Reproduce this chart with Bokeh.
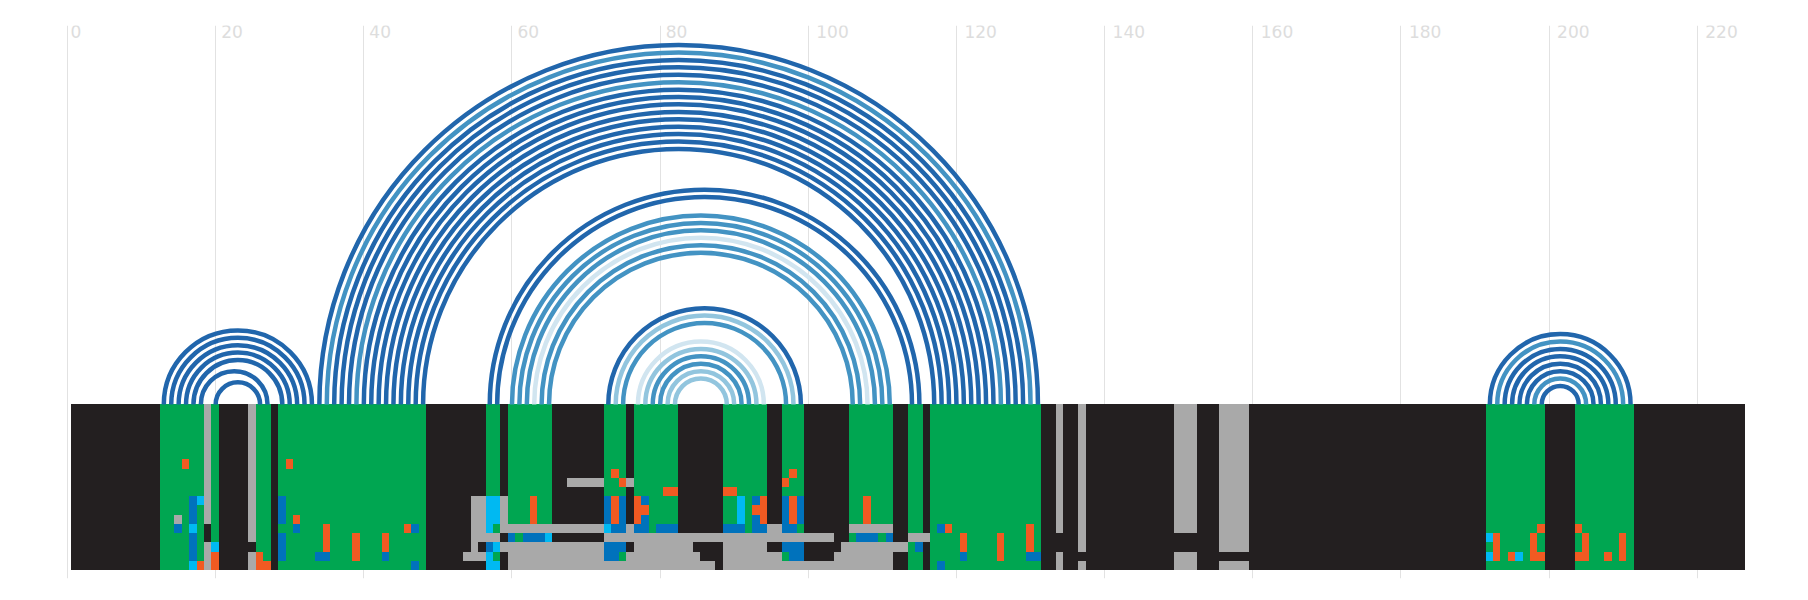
from bokeh.plotting import figure
from bokeh.models import Range1d, Grid, FixedTicker, ColumnDataSource
from bokeh.core.properties import value
from bokeh.embed import file_html
from bokeh.resources import INLINE
import math

# ---------- data ----------
tick_values = [0, 20, 40, 60, 80, 100, 120, 140, 160, 180, 200, 220]
tick_labels = ["0", "20", "40", "60", "80", "100", "120", "140", "160", "180", "200", "220"]

n_cols = 226
n_rows = 18

category_colors = {"K": "#231f20", "G": "#00a651", "A": "#a9a9a9",
                   "O": "#f15a22", "B": "#0072bc", "L": "#00b9f2"}

# (first column, last column, category) – the column colour of the upper rows
column_runs = [
    (0, 11, "K"), (12, 17, "G"), (18, 18, "A"), (19, 19, "G"), (20, 23, "K"), (24, 24, "A"),
    (25, 26, "G"), (27, 27, "K"), (28, 47, "G"), (48, 55, "K"), (56, 57, "G"), (58, 58, "K"),
    (59, 64, "G"), (65, 71, "K"), (72, 74, "G"), (75, 75, "K"), (76, 81, "G"), (82, 87, "K"),
    (88, 93, "G"), (94, 95, "K"), (96, 98, "G"), (99, 104, "K"), (105, 110, "G"), (111, 112, "K"),
    (113, 114, "G"), (115, 115, "K"), (116, 130, "G"), (131, 132, "K"), (133, 133, "A"),
    (134, 135, "K"), (136, 136, "A"), (137, 148, "K"), (149, 151, "A"), (152, 154, "K"),
    (155, 158, "A"), (159, 190, "K"), (191, 198, "G"), (199, 202, "K"), (203, 210, "G"),
    (211, 225, "K"),
]

# (first col, last col, first row, last row, category); row 0 is the bottom row
cell_patches = [
    # first block
    (15, 15, 11, 11, "O"), (14, 14, 5, 5, "A"), (14, 14, 4, 4, "B"),
    (16, 16, 5, 7, "B"), (16, 16, 4, 4, "L"), (16, 16, 1, 3, "B"), (16, 16, 0, 0, "L"),
    (17, 17, 7, 7, "L"), (17, 17, 0, 0, "O"),
    (18, 18, 3, 4, "K"), (19, 19, 2, 2, "L"), (19, 19, 0, 1, "O"),
    (24, 24, 2, 2, "K"), (25, 25, 1, 1, "O"), (25, 26, 0, 0, "O"),
    (28, 28, 5, 7, "B"), (28, 28, 1, 3, "B"), (29, 29, 11, 11, "O"),
    (30, 30, 5, 5, "O"), (30, 30, 4, 4, "B"),
    (33, 34, 1, 1, "B"), (34, 34, 2, 4, "O"), (38, 38, 1, 3, "O"),
    (42, 42, 2, 3, "O"), (42, 42, 1, 1, "B"), (45, 45, 4, 4, "O"), (46, 46, 4, 4, "B"),
    (46, 46, 0, 0, "B"),
    # grey shape at 54-58
    (54, 55, 3, 7, "A"), (54, 54, 2, 2, "A"), (53, 55, 1, 1, "A"),
    (56, 57, 4, 7, "L"), (57, 57, 4, 4, "G"), (56, 57, 3, 3, "A"),
    (56, 56, 2, 2, "B"), (57, 57, 2, 2, "L"), (56, 56, 1, 1, "L"), (57, 57, 1, 1, "G"),
    (56, 57, 0, 0, "L"), (58, 58, 4, 7, "A"), (58, 58, 2, 2, "A"),
    # stretch 59-71
    (62, 62, 5, 7, "O"), (58, 71, 4, 4, "A"),
    (59, 59, 3, 3, "B"), (60, 60, 3, 3, "G"), (61, 63, 3, 3, "B"), (64, 64, 3, 3, "L"),
    (58, 71, 2, 2, "A"), (59, 71, 0, 1, "A"), (59, 64, 0, 2, "A"),
    (67, 71, 9, 9, "A"),
    # 72-75
    (73, 73, 10, 10, "O"), (74, 74, 9, 9, "O"), (75, 75, 9, 9, "A"),
    (72, 72, 5, 7, "B"), (73, 73, 5, 7, "O"), (74, 74, 5, 7, "B"),
    (72, 72, 4, 4, "L"), (73, 74, 4, 4, "B"), (75, 75, 4, 4, "A"),
    (72, 102, 3, 3, "A"),
    (72, 74, 2, 2, "B"), (72, 73, 1, 1, "B"), (74, 74, 1, 1, "G"),
    (75, 84, 1, 1, "A"), (76, 83, 2, 2, "A"), (59, 86, 0, 0, "A"),
    # 76-81
    (80, 81, 8, 8, "O"), (76, 76, 5, 7, "O"), (77, 77, 7, 7, "B"), (77, 77, 6, 6, "O"),
    (77, 77, 5, 5, "B"), (76, 77, 4, 4, "B"), (78, 78, 4, 4, "G"), (79, 81, 4, 4, "B"),
    # 88-95
    (88, 89, 8, 8, "O"), (90, 90, 5, 7, "L"), (92, 92, 7, 7, "B"), (92, 93, 6, 6, "O"),
    (92, 92, 5, 5, "B"), (93, 93, 5, 7, "O"),
    (88, 90, 4, 4, "B"), (91, 91, 4, 4, "G"), (92, 93, 4, 4, "B"), (94, 95, 4, 4, "A"),
    (88, 93, 2, 2, "A"), (88, 95, 1, 1, "A"), (88, 110, 0, 0, "A"),
    # 96-98
    (97, 97, 10, 10, "O"), (96, 96, 9, 9, "O"),
    (96, 96, 5, 7, "B"), (97, 97, 5, 7, "O"), (98, 98, 5, 7, "B"),
    (96, 97, 4, 4, "B"), (98, 98, 4, 4, "G"),
    (96, 98, 2, 2, "B"), (96, 96, 1, 1, "G"), (97, 98, 1, 1, "B"),
    # 104-115
    (107, 107, 5, 7, "O"), (105, 110, 4, 4, "A"),
    (105, 105, 3, 3, "G"), (106, 108, 3, 3, "B"), (109, 109, 3, 3, "G"), (110, 110, 3, 3, "B"),
    (104, 112, 2, 2, "A"), (103, 110, 1, 1, "A"),
    (113, 115, 3, 3, "A"), (113, 113, 2, 2, "G"), (114, 114, 2, 2, "B"),
    # last green block of the middle
    (117, 117, 4, 4, "B"), (118, 118, 4, 4, "O"), (117, 117, 0, 0, "B"),
    (120, 120, 2, 3, "O"), (120, 120, 1, 1, "B"), (125, 125, 1, 3, "O"),
    (129, 129, 2, 4, "O"), (129, 130, 1, 1, "B"),
    # grey columns on black
    (133, 133, 2, 3, "K"), (136, 136, 1, 1, "K"), (149, 151, 2, 3, "K"), (155, 158, 1, 1, "K"),
    # right blocks
    (191, 191, 3, 3, "L"), (191, 191, 1, 1, "L"), (192, 192, 1, 3, "O"),
    (194, 194, 1, 1, "O"), (195, 195, 1, 1, "L"), (197, 197, 1, 3, "O"),
    (198, 198, 1, 1, "O"), (198, 198, 4, 4, "O"),
    (203, 203, 4, 4, "O"), (203, 203, 1, 1, "O"), (204, 204, 1, 3, "O"),
    (207, 207, 1, 1, "O"), (209, 209, 1, 3, "O"),
]

# arcs between two columns
arc_left = [12, 13, 14, 15, 16, 17, 19,
            33, 34, 35, 36, 37, 38, 39, 40, 41, 42, 43, 44, 45, 46, 47,
            56, 57, 59, 60, 61, 62, 63, 64,
            72, 73, 74, 76, 77, 78, 79, 80, 81,
            191, 192, 193, 194, 195, 196, 197, 198]
arc_right = [32, 31, 30, 29, 28, 26, 25,
             130, 129, 128, 127, 126, 125, 124, 123, 122, 121, 120, 119, 118, 117, 116,
             114, 113, 110, 109, 108, 107, 106, 105,
             98, 97, 96, 93, 92, 91, 90, 89, 88,
             210, 209, 208, 207, 206, 205, 204, 203]
arc_level = [0, 0, 0, 0, 0, 0, 0,
             0, 1, 0, 0, 0, 1, 0, 0, 0, 0, 0, 0, 0, 0, 0,
             0, 0, 1, 1, 1, 3, 1, 1,
             0, 2, 1, 3, 2, 1, 1, 2, 2,
             0, 1, 0, 0, 0, 0, 1, 0]
level_colors = ["#2166ac", "#4393c3", "#92c5de", "#d1e5f0"]

# ---------- page geometry ----------
W, H = 1792, 584
unit = 7.408            # px per column
left_x0 = 67.0          # canvas px of position 0
frame_top, frame_bottom = 25, 578
heat_top, heat_bottom = 404, 570
row_px = (heat_bottom - heat_top) / n_rows
half_px = 0.5           # the SVG layer draws everything half a pixel off


def col_edge(position):
    """Data position of a cell edge that lands on a whole screen pixel."""
    return (round(left_x0 + unit * position) - half_px - left_x0) / unit


def row_edge(row):
    """Row coordinate of a cell edge that lands on a whole screen pixel."""
    return (round(row * row_px) + half_px) / row_px


# ---------- expand table ----------
grid = [["K"] * n_cols for _ in range(n_rows)]
for c0, c1, cat in column_runs:
    for c in range(c0, c1 + 1):
        for r in range(n_rows):
            grid[r][c] = cat
for c0, c1, r0, r1, cat in cell_patches:
    for c in range(c0, c1 + 1):
        for r in range(r0, r1 + 1):
            grid[r][c] = cat

# Painted bottom-up: each changed span reaches to the top of the block and the
# next rows paint over it, so no hairlines appear between touching rows.
lefts = [col_edge(0.5)]
rights = [col_edge(n_cols + 0.5)]
bottoms = [row_edge(0)]
tops = [row_edge(n_rows)]
colors = [category_colors["K"]]
below = ["K"] * n_cols
for r in range(n_rows):
    c = 0
    while c < n_cols:
        if grid[r][c] == below[c]:
            c += 1
            continue
        e = c
        while e + 1 < n_cols and grid[r][e + 1] == grid[r][c] and grid[r][e + 1] != below[e + 1]:
            e += 1
        lefts.append(col_edge(c + 0.5))
        rights.append(col_edge(e + 1.5))
        bottoms.append(row_edge(r))
        tops.append(row_edge(n_rows))
        colors.append(category_colors[grid[r][c]])
        c = e + 1
    below = grid[r]

p = figure(width=W, height=H, output_backend="svg", toolbar_location=None,
           x_axis_location=None, y_axis_location=None,
           x_range=Range1d(-left_x0 / unit, (W - left_x0) / unit),
           y_range=Range1d(-(frame_bottom - heat_top) / unit, (heat_top - frame_top) / unit),
           min_border_left=0, min_border_right=0,
           min_border_top=frame_top, min_border_bottom=H - frame_bottom,
           background_fill_color="white", border_fill_color="white",
           outline_line_color=None)
p.grid.visible = False
p.extra_y_ranges = {"rows": Range1d(-(frame_bottom - heat_bottom) / row_px,
                                    n_rows + (heat_top - frame_top) / row_px)}

p.add_layout(Grid(dimension=0, ticker=FixedTicker(ticks=tick_values),
                  grid_line_color="#e2e2e2", grid_line_width=1))

p.quad(left="l", right="r", bottom="b", top="t", fill_color="c", line_color=None,
       y_range_name="rows",
       source=ColumnDataSource(dict(l=lefts, r=rights, b=bottoms, t=tops, c=colors)))

p.arc(x=[(a + b) / 2 + 1 for a, b in zip(arc_left, arc_right)],
      y=[0] * len(arc_left),
      radius=[(b - a) / 2 for a, b in zip(arc_left, arc_right)],
      start_angle=0, end_angle=math.pi,
      line_color=[level_colors[v] for v in arc_level], line_width=4.5)

p.text(x="x", y="y", text="t", x_offset="dx",
       text_font=value("DejaVu Sans"), text_font_size="17px", text_color="#dddddd",
       text_align="left", text_baseline="top", y_offset=-1,
       source=ColumnDataSource(dict(
           x=tick_values, y=[p.y_range.end] * len(tick_values), t=tick_labels,
           dx=[0.5 + 2.5 * len(s) for s in tick_labels])))

open("out.html", "w").write(file_html(p, INLINE))
